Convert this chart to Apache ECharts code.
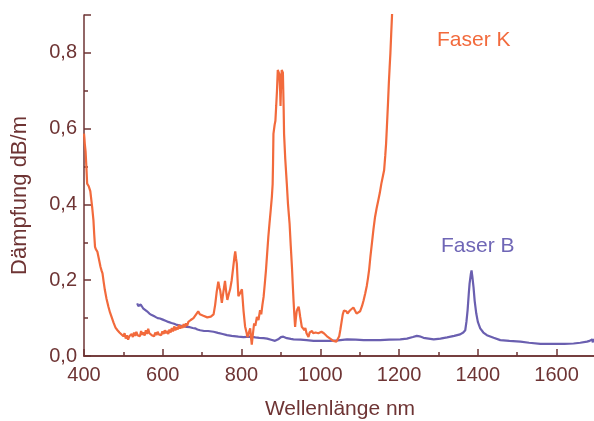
<!DOCTYPE html>
<html><head><meta charset="utf-8">
<script src="https://cdn.jsdelivr.net/npm/echarts@6/dist/echarts.min.js"></script>
<style>html,body{margin:0;padding:0;background:#fff}#c{width:594px;height:421px}</style>
</head><body><div id="c"></div>
<script>
// X: Wellenlänge (nm), Y: Dämpfung (dB/m)
const xTicks = [400, 600, 800, 1000, 1200, 1400, 1600];
const yTicks = [0.0, 0.2, 0.4, 0.6, 0.8];
const seriesNames = ['Faser K', 'Faser B'];

const faserK = [
 [400,0.587],[401,0.575],[402,0.56],[404,0.54],[406,0.5],[408,0.455],[410,0.452],[412,0.448],[414,0.445],[416,0.435],[418,0.43],
 [421,0.39],[424,0.358],[426,0.32],[428,0.288],[430,0.282],[432,0.279],[434,0.275],[436,0.27],[439,0.25],[442,0.235],
 [445,0.224],[447,0.218],[450,0.195],[453,0.174],[457,0.152],[462,0.13],[466,0.115],[470,0.103],[475,0.088],[480,0.075],
 [485,0.068],[490,0.062],[495,0.058],[500,0.052],[503,0.06],[506,0.046],[509,0.055],[512,0.043],[515,0.052],[518,0.048],
 [521,0.058],[524,0.05],[527,0.062],[530,0.053],[533,0.064],[536,0.055],[539,0.06],[542,0.052],[545,0.066],[548,0.056],
 [551,0.062],[554,0.054],[557,0.068],[560,0.058],[563,0.072],[566,0.06],[569,0.064],[572,0.055],[575,0.06],[578,0.052],
 [581,0.062],[584,0.055],[587,0.064],[590,0.057],[593,0.062],[596,0.055],[599,0.065],[602,0.058],[605,0.068],[608,0.06],
 [611,0.066],[614,0.058],[617,0.07],[620,0.062],[623,0.074],[626,0.065],[629,0.078],[632,0.068],[635,0.076],[638,0.07],
 [641,0.082],[644,0.072],[647,0.08],[650,0.074],[653,0.084],[656,0.076],[659,0.086],[662,0.08],[665,0.09],[668,0.085],
 [671,0.095],[674,0.09],[678,0.1],[682,0.105],[686,0.112],[690,0.118],[694,0.11],[698,0.115],[703,0.106],[708,0.11],
 [713,0.102],[718,0.1],[722,0.104],[726,0.1],[729,0.11],[733,0.135],[737,0.17],[741,0.196],[744,0.18],[746,0.172],
 [750,0.14],[754,0.17],[758,0.198],[761,0.17],[764,0.148],[768,0.165],[771,0.176],[775,0.2],[779,0.235],[782,0.262],
 [784,0.276],[786,0.258],[788,0.244],[790,0.2],[792,0.158],[796,0.165],[801,0.176],[805,0.12],[809,0.078],[812,0.065],
 [815,0.05],[818,0.06],[822,0.073],[824,0.05],[826,0.03],[829,0.06],[832,0.086],[835,0.08],[839,0.103],[843,0.095],
 [847,0.121],[850,0.11],[853,0.135],[856,0.156],[859,0.19],[862,0.226],[865,0.27],[868,0.314],[871,0.35],[874,0.384],
 [877,0.42],[879,0.454],[880,0.51],[881,0.586],[884,0.61],[886,0.621],[888,0.66],[890,0.7],[892,0.755],[894,0.75],
 [896,0.744],[898,0.7],[899,0.66],[900,0.7],[902,0.755],[904,0.752],[905,0.748],[907,0.65],[908,0.586],[911,0.52],
 [915,0.454],[918,0.4],[922,0.349],[925,0.29],[928,0.235],[930,0.19],[932,0.147],[934,0.11],[936,0.077],[938,0.1],
 [940,0.118],[942,0.124],[945,0.13],[947,0.118],[949,0.103],[951,0.09],[953,0.077],[957,0.08],[960,0.068],[962,0.074],
 [965,0.06],[968,0.055],[970,0.05],[973,0.062],[976,0.058],[979,0.066],[982,0.06],[985,0.056],[988,0.062],[991,0.058],
 [995,0.06],[999,0.063],[1003,0.064],[1006,0.068],[1009,0.06],[1013,0.056],[1017,0.052],[1021,0.05],[1025,0.046],
 [1029,0.043],[1033,0.04],[1037,0.038],[1041,0.038],[1045,0.042],[1048,0.052],[1051,0.07],[1054,0.09],[1057,0.11],
 [1060,0.12],[1063,0.122],[1066,0.118],[1069,0.112],[1072,0.114],[1075,0.12],[1079,0.124],[1084,0.128],[1088,0.12],
 [1092,0.112],[1097,0.108],[1101,0.118],[1106,0.132],[1110,0.147],[1114,0.165],[1118,0.185],[1121,0.205],[1124,0.228],
 [1127,0.26],[1131,0.297],[1135,0.335],[1139,0.367],[1143,0.39],[1147,0.41],[1151,0.43],[1155,0.455],[1159,0.475],
 [1162,0.49],[1165,0.53],[1167,0.56],[1169,0.603],[1172,0.67],[1174,0.72],[1176,0.761],[1178,0.8],[1180,0.85],
 [1182,0.897],[1184,0.95]
];

const faserB = [
 [535,0.139],[538,0.132],[541,0.13],[544,0.136],[547,0.134],[550,0.126],[555,0.121],[560,0.118],[566,0.112],[572,0.108],
 [580,0.104],[587,0.1],[593,0.099],[600,0.096],[607,0.093],[614,0.09],[622,0.087],[629,0.085],[636,0.082],[645,0.08],
 [653,0.078],[661,0.077],[669,0.076],[676,0.074],[682,0.073],[688,0.07],[695,0.068],[705,0.066],[715,0.066],[729,0.064],
 [740,0.061],[752,0.058],[763,0.055],[775,0.053],[792,0.051],[805,0.05],[822,0.051],[835,0.049],[845,0.048],[856,0.047],
 [865,0.046],[875,0.043],[885,0.04],[893,0.044],[900,0.05],[906,0.051],[915,0.047],[925,0.045],[932,0.044],[950,0.043],
 [965,0.042],[983,0.04],[1000,0.04],[1025,0.04],[1045,0.041],[1068,0.044],[1090,0.043],[1110,0.042],[1130,0.042],
 [1152,0.042],[1175,0.043],[1203,0.044],[1220,0.046],[1235,0.05],[1245,0.053],[1252,0.052],[1262,0.048],[1275,0.046],
 [1288,0.044],[1305,0.046],[1322,0.049],[1340,0.053],[1355,0.057],[1363,0.062],[1368,0.068],[1371,0.09],[1374,0.121],
 [1377,0.165],[1379,0.191],[1382,0.215],[1384,0.226],[1386,0.21],[1389,0.182],[1392,0.145],[1396,0.112],[1400,0.09],
 [1406,0.073],[1414,0.062],[1423,0.055],[1440,0.048],[1457,0.042],[1480,0.04],[1508,0.038],[1530,0.035],[1559,0.032],
 [1580,0.032],[1601,0.032],[1620,0.032],[1643,0.033],[1660,0.035],[1677,0.038],[1684,0.04],[1688,0.036],[1690,0.044],
 [1692,0.036],[1694,0.045],[1696,0.038],[1700,0.042]
];

const AX = '#6e3434';
const FONT = 'Liberation Sans, Arial, sans-serif';
const W = 594, H = 421;
const gLeft = 84, gTop = 15, gBottom = 65;
const xMin = xTicks[0], xStep = xTicks[1] - xTicks[0];
const yStep = yTicks[1] - yTicks[0];
const xMax = 1800, yMax = 0.9;
const pxPerNm = 512 / 1300;                    // 400..1700 spans 84..596
const gRight = W - (gLeft + (xMax - xMin) * pxPerNm);
const gWidth = W - gLeft - gRight;
// shift x-axis title so it is centred on the visible 400..1700 range
const nameShift = 2 * ((xMax - 1700) / 2 * pxPerNm);

const chart = echarts.init(document.getElementById('c'), null, {renderer: 'canvas'});
chart.setOption({
  animation: false,
  grid: {left: gLeft, right: gRight, top: gTop, bottom: gBottom, containLabel: false, outerBoundsMode: 'none'},
  xAxis: [
    {type: 'value', min: xMin, max: xMax, interval: xStep, position: 'bottom',
     name: 'Wellenlänge nm', nameLocation: 'middle', nameGap: 43,
     nameTextStyle: {color: AX, fontSize: 21, fontFamily: FONT, padding: [0, nameShift, 0, 0]},
     axisLine: {lineStyle: {color: AX, width: 1.5}},
     axisTick: {inside: true, length: 7, lineStyle: {color: AX, width: 1.5}},
     minorTick: {show: true, splitNumber: 2, length: 4, lineStyle: {color: AX, width: 1.5}},
     axisLabel: {color: AX, fontSize: 20, fontFamily: FONT, margin: 9, formatter: v => String(v)},
     splitLine: {show: false}, minorSplitLine: {show: false}},
    {type: 'value', min: xMin, max: xMax, position: 'top',
     axisLine: {lineStyle: {color: AX, width: 1.5}},
     axisTick: {show: false}, axisLabel: {show: false}, splitLine: {show: false}}
  ],
  yAxis: [
    {type: 'value', min: 0, max: yMax, interval: yStep / 2, position: 'left',
     name: 'Dämpfung dB/m', nameLocation: 'middle', nameGap: 53,
     nameTextStyle: {color: AX, fontSize: 22, fontFamily: FONT, padding: [0, 20, 0, 0]},
     axisLine: {show: true, lineStyle: {color: AX, width: 1.5}},
     axisTick: {show: true, inside: true, length: 4, lineStyle: {color: AX, width: 1.5}},
     axisLabel: {color: AX, fontSize: 20, fontFamily: FONT, margin: 7, showMaxLabel: false,
       formatter: v => {
         const hit = yTicks.find(t => Math.abs(t - v) < 1e-6);
         return hit === undefined ? '' : hit.toFixed(1).replace('.', ',');
       }},
     splitLine: {show: false}},
    {type: 'value', min: 0, max: yMax, interval: yStep, position: 'right', offset: -gWidth,
     axisLine: {show: false},
     axisTick: {show: true, inside: false, length: 7, lineStyle: {color: AX, width: 1.5}},
     axisLabel: {show: false}, splitLine: {show: false}}
  ],
  series: [
    {name: seriesNames[0], type: 'line', data: faserK, showSymbol: false, xAxisIndex: 0, yAxisIndex: 0,
     lineStyle: {color: '#f26a3c', width: 2.2}, clip: true, z: 3},
    {name: seriesNames[1], type: 'line', data: faserB, showSymbol: false, xAxisIndex: 0, yAxisIndex: 0,
     lineStyle: {color: '#6a5fb0', width: 2.2}, clip: true, z: 2}
  ],
  graphic: [
    {type: 'text', left: 437, top: 30, style: {text: seriesNames[0], fill: '#f26a3c', fontSize: 21, fontFamily: FONT}},
    {type: 'text', left: 441, top: 236, style: {text: seriesNames[1], fill: '#6f66b6', fontSize: 21, fontFamily: FONT}}
  ]
});
</script>
</body></html>
